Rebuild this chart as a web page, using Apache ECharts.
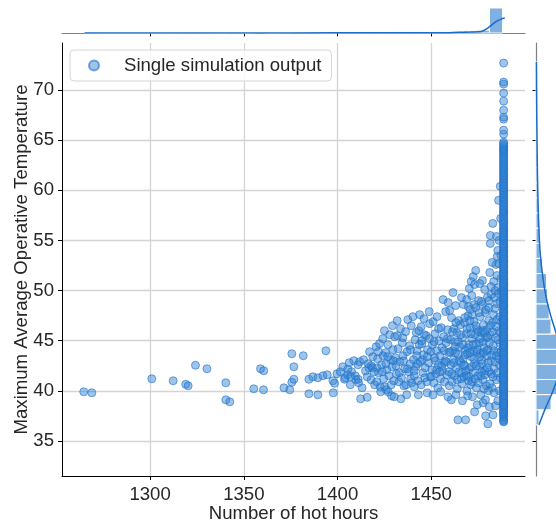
<!DOCTYPE html>
<html><head><meta charset="utf-8">
<script src="https://cdn.jsdelivr.net/npm/echarts@6/dist/echarts.min.js"></script>
<style>html,body{margin:0;padding:0;background:#fff}#c{width:556px;height:523px}</style>
</head><body><div id="c"></div>
<script>
// ---------------- data ----------------
const seriesName = 'Single simulation output';
const xTitle = 'Number of hot hours';
const yTitle = 'Maximum Average Operative Temperature';
const xTicks = [1300, 1350, 1400, 1450];
const yTicks = [35, 40, 45, 50, 55, 60, 65, 70];

// sparse left part  [hot hours, max temp]
const sparsePoints = [
  [1264.6,39.9],[1268.9,39.8],[1300.9,41.2],[1312.3,41.0],[1319.0,40.65],[1320.3,40.5],
  [1324.2,42.55],[1330.3,42.2],[1340.4,40.8],[1340.4,39.1],[1342.5,38.9],[1355.3,40.2],
  [1360.5,40.1],[1358.9,42.2],[1360.6,42.0],[1371.4,40.3],[1374.5,40.1],[1375.6,43.7],
  [1376.7,42.4],[1381.7,43.5],[1375.6,40.85],[1376.7,41.15],[1384.7,41.15],[1386.8,41.4],
  [1384.7,39.7],[1389.5,39.6],[1389.5,41.3],[1392.2,41.5],[1394.5,41.6],[1393.8,44.0],
  [1397.5,41.0],[1398.4,40.75],[1397.7,39.8],[1399.7,41.7]
];

// main cloud 1400-1488
const cloudPoints = [
  [1401.5,41.9],[1402.8,42.4],[1403.7,41.15],[1404.0,41.3],[1405.5,42.15],[1405.5,41.6],[1406.2,42.8],
  [1406.8,40.6],[1407.5,41.9],[1408.7,43.0],[1409.5,41.5],[1409.8,41.1],[1410.9,42.6],[1411.0,41.15],
  [1412.3,39.2],[1415.8,39.35],[1415.8,41.4],[1416.7,42.3],[1418.0,42.5],[1411.8,42.9],[1413.9,43.1],
  [1416.3,42.7],[1417.9,41.1],[1418.6,42.3],[1419.8,40.6],[1411.2,40.8],[1413.1,40.3],[1418.8,43.4],
  [1414.9,42.0],[1417.1,43.9],
  [1420.6,44.4],[1421.4,43.2],[1421.9,41.8],[1422.4,44.7],[1422.8,40.4],[1423.5,42.6],[1424.1,45.2],
  [1424.6,41.2],[1425.1,40.4],[1425.6,43.8],[1426.0,40.1],[1426.3,42.1],[1426.9,44.6],[1427.4,41.5],
  [1427.8,45.6],[1428.3,43.1],[1428.6,40.6],[1429.1,42.4],[1429.6,44.1],[1430.0,41.0],[1423.0,39.9],
  [1427.0,39.9],[1421.0,42.3],[1425.0,46.0],[1429.3,46.5],[1420.9,40.9],[1424.3,43.5],[1428.8,39.5],
  [1430.5,45.4],[1430.9,43.3],[1431.4,41.7],[1431.8,47.0],[1432.3,44.2],[1432.7,40.9],[1433.2,42.9],
  [1433.6,46.2],[1434.1,41.3],[1434.5,44.8],[1435.0,43.5],[1435.4,40.5],[1435.8,42.2],[1436.3,45.9],
  [1436.6,40.6],[1437.1,43.9],[1437.5,47.1],[1437.9,41.9],[1438.4,44.5],[1438.8,42.7],[1439.3,46.5],
  [1439.6,40.8],[1430.2,39.4],[1433.8,39.2],[1436.9,39.6],[1439.0,41.2],[1431.2,42.5],[1434.8,45.3],
  [1440.2,47.4],[1440.5,43.1],[1440.9,41.5],[1441.0,40.4],[1441.4,45.1],[1441.8,42.4],[1442.0,45.8],
  [1442.5,44.0],[1442.9,41.0],[1443.4,46.0],[1443.8,47.6],[1444.1,42.9],[1444.6,46.4],[1444.6,40.6],
  [1445.0,44.7],[1445.5,41.8],[1445.9,43.6],[1446.3,45.6],[1446.8,42.3],[1447.3,45.5],[1447.6,40.9],
  [1448.0,44.1],[1448.5,42.8],[1449.1,46.7],[1449.4,41.4],[1449.8,43.9],[1446.1,47.2],[1448.9,47.9],
  [1447.8,39.8],[1443.1,39.6],[1442.2,43.5],[1444.9,45.0],
  [1450.3,42.1],[1450.6,44.6],[1451.0,46.9],[1451.3,40.8],[1451.7,43.3],[1452.0,45.7],[1452.4,41.7],
  [1452.8,44.0],[1453.1,47.4],[1453.5,40.3],[1453.8,42.6],[1454.2,45.0],[1454.6,43.5],[1454.9,41.2],
  [1455.3,46.3],[1455.7,44.3],[1456.0,42.0],[1456.3,49.1],[1456.6,45.4],[1457.0,40.9],[1457.3,43.0],
  [1457.7,47.9],[1458.0,44.8],[1458.4,41.6],[1458.7,46.1],[1459.0,48.8],[1459.3,43.8],[1459.8,48.0],
  [1459.6,40.5],[1450.9,39.6],[1455.0,39.9],[1458.9,39.4],[1452.2,43.0],[1456.9,42.8],
  [1460.2,45.1],[1460.5,42.6],[1460.8,47.3],[1461.1,40.9],[1461.6,49.8],[1461.4,44.0],[1461.8,43.1],
  [1462.1,46.2],[1462.4,41.5],[1462.7,44.9],[1463.0,48.5],[1463.3,42.3],[1463.6,45.8],[1463.9,40.2],
  [1464.2,37.1],[1464.3,43.6],[1464.6,47.0],[1464.9,41.9],[1465.2,44.4],[1465.5,46.6],[1465.8,42.8],
  [1466.1,49.3],[1466.4,40.7],[1466.7,45.3],[1467.0,43.2],[1467.1,48.6],[1467.4,41.4],[1467.7,46.8],
  [1468.0,44.1],[1468.3,37.1],[1468.4,42.0],[1468.9,49.1],[1468.7,45.7],[1469.0,40.0],[1469.3,43.7],
  [1469.8,48.4],[1469.6,47.5],[1469.9,41.0],[1460.7,39.1],[1463.2,39.6],[1466.6,39.0],[1469.4,39.5],
  [1462.9,43.8],[1465.9,41.2],[1467.9,42.5],
  [1470.1,44.6],[1470.3,50.2],[1470.4,42.2],[1470.7,46.3],[1471.0,40.6],[1471.3,50.9],[1471.3,43.4],
  [1471.6,49.5],[1471.6,45.2],[1471.9,47.6],[1472.2,41.8],[1472.4,51.4],[1472.5,44.0],[1472.8,46.9],
  [1473.1,50.6],[1473.1,42.7],[1473.1,37.9],[1473.4,45.6],[1473.7,52.0],[1473.7,48.3],[1474.0,40.3],
  [1474.3,43.9],[1474.6,46.1],[1474.9,41.5],[1475.2,49.0],[1475.5,44.8],[1475.8,42.4],[1476.1,47.4],
  [1476.4,39.6],[1476.7,45.8],[1477.0,43.1],[1477.3,51.0],[1477.3,48.6],[1477.6,38.8],[1477.6,41.1],
  [1477.9,46.6],[1478.2,44.3],[1478.5,50.1],[1478.5,42.0],[1478.8,47.8],[1479.0,37.5],[1479.1,45.3],
  [1479.4,40.5],[1479.7,43.5],[1479.9,49.3],[1470.8,48.1],[1472.0,39.4],[1474.5,38.6],[1475.9,50.7],
  [1476.9,41.9],[1478.9,39.1],[1472.7,43.2],[1475.0,45.9],[1477.7,44.9],[1479.6,46.1],[1470.5,47.0],
  [1473.9,44.7],[1476.3,43.7],
  [1480.2,36.7],[1480.3,44.1],[1480.6,47.0],[1480.9,41.9],[1481.2,51.8],[1481.5,55.5],[1481.5,54.7],
  [1481.5,45.6],[1481.8,43.0],[1482.1,49.6],[1482.4,40.3],[1482.8,56.7],[1482.7,46.8],[1482.9,37.6],
  [1483.0,44.5],[1483.3,50.9],[1483.6,42.2],[1483.9,48.2],[1484.2,45.3],[1484.3,38.5],[1484.5,52.6],
  [1484.8,55.4],[1484.8,41.1],[1485.1,47.1],[1485.2,53.4],[1485.4,43.8],[1485.5,54.0],[1485.5,39.0],
  [1485.7,50.3],[1485.9,59.0],[1486.0,52.7],[1486.0,46.0],[1486.3,42.6],[1486.4,40.0],[1486.6,48.9],
  [1486.8,60.4],[1486.9,44.7],[1487.0,57.2],[1487.1,51.2],[1480.5,40.0],[1481.0,38.4],[1482.0,41.7],
  [1483.5,39.8],[1484.0,50.0],[1485.0,51.5],[1486.2,55.0],[1487.2,53.5],[1480.8,49.0],[1482.5,52.8]
];

// denser core of the cloud
const corePoints = [
  [1455.5,42.4],[1456.8,44.0],[1457.9,42.9],[1458.6,45.2],[1459.4,41.9],[1460.0,43.9],[1460.9,41.7],
  [1461.3,45.9],[1462.0,42.8],[1462.6,44.4],[1463.1,46.8],[1463.8,41.1],[1464.4,44.9],[1465.0,43.0],
  [1465.6,45.6],[1466.2,41.8],[1466.9,44.6],[1467.3,42.6],[1467.8,47.3],[1468.2,43.6],[1468.8,41.5],
  [1469.1,46.2],[1469.7,44.3],[1470.2,41.4],[1470.6,43.8],[1471.1,45.7],[1471.5,42.4],[1471.8,40.9],
  [1472.3,44.6],[1472.9,48.6],[1473.3,41.2],[1473.8,46.5],[1474.1,42.5],[1474.7,44.1],[1475.1,40.8],
  [1475.4,47.8],[1475.7,43.4],[1476.0,45.2],[1476.5,41.5],[1476.8,48.9],[1477.2,42.7],[1477.5,46.0],
  [1477.8,43.8],[1478.1,40.2],[1478.4,45.8],[1478.7,41.6],[1479.2,48.1],[1479.5,44.0],[1479.8,42.3],
  [1480.1,45.3],[1480.4,42.8],[1480.7,48.3],[1481.0,44.8],[1481.3,40.7],[1481.6,46.5],[1481.9,50.4],
  [1482.2,43.6],[1482.6,45.9],[1482.9,41.4],[1483.2,47.6],[1483.5,44.0],[1483.8,49.3],[1484.1,42.9],
  [1484.4,46.4],[1484.7,43.5],[1485.0,48.7],[1485.3,41.8],[1485.6,45.1],[1485.9,49.7],[1486.2,43.2],
  [1486.5,47.4],[1486.8,41.3],[1487.0,45.8],[1487.2,43.9],[1487.3,49.9],[1487.4,46.9],
  [1433.0,41.8],[1435.2,43.0],[1437.3,42.2],[1438.9,44.1],[1440.8,42.0],[1442.7,42.7],[1443.6,44.6],
  [1445.3,43.1],[1446.6,41.3],[1447.9,43.4],[1449.0,45.2],[1450.1,41.4],[1451.5,44.9],[1452.9,42.1],
  [1453.9,46.2],[1454.5,41.9],[1421.8,43.9],[1423.8,41.9],[1426.8,43.4],[1429.8,43.0],[1431.9,45.5],
  [1425.8,42.7],[1419.5,41.9],[1407.0,41.4]
];

// vertical column of runs at the maximum number of hot hours
const columnHours = 1488.6;
const columnTemps = [
  36.9,37.1,37.3,37.6,37.8,38.0,38.3,38.5,38.7,38.9,39.2,39.4,39.6,39.9,40.1,40.3,40.5,40.8,41.0,41.2,
  41.4,41.7,41.9,42.1,42.3,42.6,42.8,43.0,43.2,43.5,43.7,43.9,44.2,44.4,44.6,44.8,45.1,45.3,45.5,45.7,
  46.0,46.2,46.4,46.7,46.9,47.1,47.3,47.6,47.8,48.0,48.3,48.5,48.7,49.0,49.2,49.4,49.7,49.9,50.1,50.4,
  50.6,50.8,51.1,51.3,51.6,51.8,52.0,52.3,52.5,52.8,53.0,53.3,53.5,53.8,54.0,54.3,54.5,54.8,55.1,55.3,
  55.6,55.9,56.1,56.4,56.7,56.9,57.2,57.5,57.8,58.0,58.3,58.6,58.9,59.2,59.5,59.8,60.1,60.4,60.7,61.0,
  61.3,61.6,61.9,62.2,62.5,62.8,63.1,63.4,63.7,64.0,64.2,64.5,64.8,65.6,66.0,67.1,67.3,68.0,68.9,69.7,
  70.6,70.8,72.7
];
const columnTempsB = [
  37.0,37.45,37.7,37.9,38.15,38.4,38.6,38.8,39.05,39.3,39.5,39.75,40.0,40.2,40.4,40.65,40.9,41.1,41.3,
  41.55,41.8,42.0,42.2,42.45,42.7,42.9,43.1,43.35,43.6,43.8,44.05,44.3,44.5,44.7,44.95,45.2,45.4,45.6,
  45.85,46.1,46.3,46.55,46.8,47.0,47.2,47.45,47.7,47.9,48.15,48.4,48.6,48.85,49.1,49.3,49.55,49.8,50.0,
  50.25,50.5,50.7,50.95,51.2,51.45,51.7,51.9,52.15,52.4,52.65,52.9,53.15,53.4,53.65,53.9,54.15,54.4,
  54.65,54.95,55.2,55.45,55.75,56.0,56.25,56.55,56.8,57.05,57.35,57.65,57.9,58.15,58.45,58.75,59.05,
  59.35,59.65,59.95,60.25,60.55,60.85,61.15,61.45,61.75,62.05,62.35,62.65,62.95,63.25,63.55,63.85,
  64.1,64.35,64.65
];

// top marginal histogram (counts per bin of hot hours) and its KDE
const topBinStart = 1265, topBinWidth = 6.97;
const topCounts = [2,0,0,0,0,1,0,1,2,1,0,2,0,4,0,3,4,5,5,6,8,9,10,12,14,16,17,18,20,24,32,285];
const topKde = [[1265,0.3],[1300,0.5],[1350,0.8],[1400,1.5],[1430,2.5],[1454,3],[1465,8],[1471,12],
  [1476.7,18],[1479.8,50],[1482.6,99],[1485.5,140],[1488.4,168],[1489.2,172]];

// right marginal histogram (counts per temperature bin) and its KDE
const rightBinStart = 36.6, rightBinWidth = 1.51;
const rightCounts = [15,75,130,150,145,120,75,66,58,53,33,21,17,15,12,10,10,8,6,3,3,2,2,2];
const rightKde = [[15,36.6],[32,37.5],[50,38.4],[75,39.5],[100,40.8],[120,42.0],[125,43.2],[118,44.5],
  [100,45.8],[75,47.4],[50,49.4],[33,51.5],[20,54.0],[14,56.5],[10,59.0],[7,62.0],[5,65.0],[3.5,68.0],[2,72.8]];

// ---------------- chart ----------------
const FONT = 'Liberation Sans, Arial, sans-serif';
const FS = 18.6;
const TXT = '#262626';
const X_MIN = 1253, X_MAX = 1500, Y_MIN = 31.5, Y_MAX = 74.7;

const scatterData = sparsePoints.concat(cloudPoints, corePoints,
  columnTemps.map(t => [columnHours, t]), columnTempsB.map(t => [columnHours, t]));
const topHist = topCounts.map((c, i) => [topBinStart + i * topBinWidth, topBinStart + (i + 1) * topBinWidth, c]);
const rightHist = rightCounts.map((c, i) => [rightBinStart + i * rightBinWidth, rightBinStart + (i + 1) * rightBinWidth, c]);

const chart = echarts.init(document.getElementById('c'), null, {renderer: 'canvas'});
const histFill = '#80b0e0';
const kdeColor = '#1a6cc4';

chart.setOption({
  animation: false,
  textStyle: {fontFamily: FONT},
  grid: [
    {left: 62, top: 43, width: 463, height: 433, outerBoundsMode: 'none', containLabel: false},
    {left: 62, top: 0, width: 463, height: 33, outerBoundsMode: 'none', containLabel: false},
    {left: 536, top: 43, width: 40, height: 433, outerBoundsMode: 'none', containLabel: false}
  ],
  legend: {
    data: [seriesName], left: 70, top: 50, icon: 'circle', itemWidth: 10, itemHeight: 10,
    padding: [6, 10, 6, 18], borderColor: '#d6d6d6', borderWidth: 1, borderRadius: 4,
    backgroundColor: 'rgba(255,255,255,0.8)',
    textStyle: {fontSize: FS, color: TXT, fontFamily: FONT, padding: [0, 0, 0, 20], lineHeight: 18}
  },
  xAxis: [
    {gridIndex: 0, type: 'value', min: X_MIN, max: X_MAX,
      name: xTitle, nameLocation: 'middle', nameGap: 28, nameMoveOverlap: false,
      nameTextStyle: {fontSize: FS, color: TXT, fontFamily: FONT},
      axisLine: {show: true, lineStyle: {color: '#000', width: 1}},
      axisTick: {show: true, inside: false, length: 4, customValues: xTicks, lineStyle: {color: '#000'}},
      axisLabel: {customValues: xTicks, fontSize: FS, color: TXT, margin: 9, fontFamily: FONT,
        formatter: v => String(v)},
      splitLine: {show: true, lineStyle: {color: '#d4d4d4', width: 1.3}}},
    {gridIndex: 1, type: 'value', min: X_MIN, max: X_MAX,
      axisLine: {show: true, lineStyle: {color: '#7f7f7f', width: 1.2}},
      axisTick: {show: true, inside: false, length: 3.5, customValues: xTicks, lineStyle: {color: '#000'}},
      axisLabel: {show: false}, splitLine: {show: false}},
    {gridIndex: 2, type: 'value', min: 0, max: 200, show: false}
  ],
  yAxis: [
    {gridIndex: 0, type: 'value', min: Y_MIN, max: Y_MAX,
      name: yTitle, nameLocation: 'middle', nameGap: 31, nameMoveOverlap: false,
      nameTextStyle: {fontSize: FS, color: TXT, fontFamily: FONT},
      axisLine: {show: true, lineStyle: {color: '#000', width: 1}},
      axisTick: {show: true, inside: false, length: 4, customValues: yTicks, lineStyle: {color: '#000'}},
      axisLabel: {customValues: yTicks, fontSize: FS, color: TXT, margin: 8, fontFamily: FONT},
      splitLine: {show: true, lineStyle: {color: '#d4d4d4', width: 1.3}}},
    {gridIndex: 1, type: 'value', min: 0, max: 376, show: false},
    {gridIndex: 2, type: 'value', min: Y_MIN, max: Y_MAX, position: 'left',
      axisLine: {show: true, lineStyle: {color: '#7f7f7f', width: 1.2}},
      axisTick: {show: true, inside: false, length: 3.5, customValues: yTicks, lineStyle: {color: '#000'}},
      axisLabel: {show: false}, splitLine: {show: false}}
  ],
  series: [
    {name: seriesName, type: 'scatter', xAxisIndex: 0, yAxisIndex: 0, symbol: 'circle', symbolSize: 8,
      data: scatterData,
      itemStyle: {color: 'rgba(53,132,212,0.6)', borderColor: 'rgba(28,112,200,0.75)', borderWidth: 1}},
    {type: 'custom', xAxisIndex: 1, yAxisIndex: 1, data: topHist, encode: {x: [0, 1], y: 2},
      renderItem: function (params, api) {
        const p0 = api.coord([api.value(0), api.value(2)]);
        const p1 = api.coord([api.value(1), 0]);
        return {type: 'rect', shape: {x: p0[0], y: p0[1], width: p1[0] - p0[0], height: p1[1] - p0[1]},
          style: {fill: histFill, stroke: '#ffffff', lineWidth: 1}};
      }},
    {type: 'line', xAxisIndex: 1, yAxisIndex: 1, data: topKde, smooth: 0.3, symbol: 'none',
      lineStyle: {color: kdeColor, width: 1.5}, z: 5},
    {type: 'custom', xAxisIndex: 2, yAxisIndex: 2, data: rightHist, encode: {x: 2, y: [0, 1]},
      renderItem: function (params, api) {
        const p0 = api.coord([0, api.value(1)]);
        const p1 = api.coord([api.value(2), api.value(0)]);
        return {type: 'rect', shape: {x: p0[0], y: p0[1], width: p1[0] - p0[0], height: p1[1] - p0[1]},
          style: {fill: histFill, stroke: '#ffffff', lineWidth: 1}};
      }},
    {type: 'line', xAxisIndex: 2, yAxisIndex: 2, data: rightKde, smooth: 0.3, symbol: 'none',
      lineStyle: {color: kdeColor, width: 1.5}, z: 5}
  ]
});
</script>
</body></html>
